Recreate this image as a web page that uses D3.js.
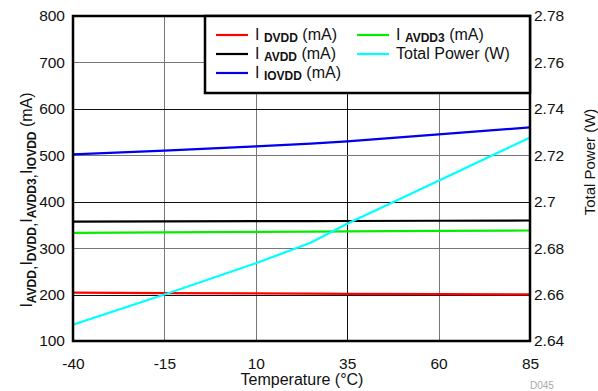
<!DOCTYPE html>
<html><head><meta charset="utf-8">
<script src="https://cdn.jsdelivr.net/npm/d3@7"></script>
<style>body{margin:0;background:#fff;} text{font-family:"Liberation Sans",Arial,sans-serif;}</style>
</head><body><svg id="c" width="598" height="391"></svg>
<script>
const temps = [-40, -15, 10, 25, 35, 60, 85];
const iDVDD  = [204, 203, 202.5, 202, 201.5, 201, 200.5];
const iAVDD  = [357, 357.5, 358, 358, 358.5, 359, 359.5];
const iAVDD3 = [333, 334, 335, 335.5, 336, 337, 338];
const iIOVDD = [502, 510, 519, 525, 530, 545, 560];
const totalPower = [2.647, 2.660, 2.6735, 2.6823, 2.6905, 2.709, 2.7277];
const xTicks = [-40, -15, 10, 35, 60, 85];
const yTicks = [100, 200, 300, 400, 500, 600, 700, 800];
const y2Ticks = [2.64, 2.66, 2.68, 2.7, 2.72, 2.74, 2.76, 2.78];

const svg = d3.select("#c");
const L = 73, R = 530, T = 16, B = 341;
const x = d3.scaleLinear().domain([-40, 85]).range([L, R]);
const y = d3.scaleLinear().domain([100, 800]).range([B, T]);
const y2 = d3.scaleLinear().domain([2.64, 2.78]).range([B, T]);

// grid
const g = svg.append("g");
g.selectAll(".vg").data(xTicks.slice(1, -1)).enter().append("line")
  .attr("x1", d => Math.round(x(d)) + 0.5).attr("x2", d => Math.round(x(d)) + 0.5)
  .attr("y1", T).attr("y2", B).attr("stroke", d => d === 35 ? "#111" : "#777").attr("stroke-width", 1);
g.selectAll(".hg").data(yTicks.slice(1, -1)).enter().append("line")
  .attr("y1", d => Math.round(y(d)) + 0.5).attr("y2", d => Math.round(y(d)) + 0.5)
  .attr("x1", L).attr("x2", R).attr("stroke", d => (d % 200 === 0) ? "#111" : "#777").attr("stroke-width", 1);

// axes labels via d3 axes
const axL = d3.axisLeft(y).tickValues(yTicks).tickSize(0).tickPadding(8).tickFormat(d => String(d));
const axR = d3.axisRight(y2).tickValues(y2Ticks).tickSize(0).tickPadding(4).tickFormat(d => String(+d.toFixed(2)));
const axB = d3.axisBottom(x).tickValues(xTicks).tickSize(0).tickPadding(17).tickFormat(d => String(d));
function style(sel){ sel.select(".domain").remove(); sel.selectAll("text").attr("font-size", 15.5).attr("fill", "#111"); }
svg.append("g").attr("transform", `translate(${L},0)`).call(axL).call(style);
svg.append("g").attr("transform", `translate(${R},0)`).call(axR).call(style);
svg.append("g").attr("transform", `translate(0,${B})`).call(axB).call(style);

// lines
const series = [
  {v: iDVDD, c: "#ff0000", s: y},
  {v: iAVDD3, c: "#00ee00", s: y},
  {v: iAVDD, c: "#000000", s: y},
  {v: iIOVDD, c: "#0000ee", s: y},
  {v: totalPower, c: "#00ffff", s: y2}
];
svg.append("clipPath").attr("id", "cp").append("rect").attr("x", L).attr("y", T).attr("width", R - L).attr("height", B - T);
series.forEach(se => {
  const line = d3.line().x((d, i) => x(temps[i])).y(d => se.s(d));
  svg.append("path").datum(se.v).attr("d", line).attr("fill", "none")
    .attr("stroke", se.c).attr("stroke-width", 2.2).attr("clip-path", "url(#cp)");
});

// border
svg.append("rect").attr("x", L).attr("y", T).attr("width", R - L).attr("height", B - T)
  .attr("fill", "none").attr("stroke", "#000").attr("stroke-width", 2.5);

// legend
const lg = svg.append("g");
lg.append("rect").attr("x", 205).attr("y", T).attr("width", R - 205).attr("height", 77)
  .attr("fill", "#fff").attr("stroke", "#000").attr("stroke-width", 2.5);
const legItems = [
  {c: "#ff0000", sub: "DVDD", unit: " (mA)", x: 216, y: 35},
  {c: "#000000", sub: "AVDD", unit: " (mA)", x: 216, y: 54},
  {c: "#0000ee", sub: "IOVDD", unit: " (mA)", x: 216, y: 73},
  {c: "#00ee00", sub: "AVDD3", unit: " (mA)", x: 357, y: 35},
  {c: "#00ffff", sub: null, unit: "Total Power (W)", x: 357, y: 54}
];
legItems.forEach(it => {
  lg.append("line").attr("x1", it.x).attr("x2", it.x + 32).attr("y1", it.y).attr("y2", it.y)
    .attr("stroke", it.c).attr("stroke-width", 2.2);
  const t = lg.append("text").attr("x", it.x + 39).attr("y", it.y + 5).attr("font-size", 16).attr("fill", "#111");
  if (it.sub) {
    t.append("tspan").text("I ");
    t.append("tspan").text(it.sub).attr("font-size", 12).attr("font-weight", "bold").attr("dy", 2);
    t.append("tspan").text(it.unit).attr("dy", -2);
  } else {
    t.text(it.unit);
  }
});

// axis titles
svg.append("text").attr("x", 302).attr("y", 385).attr("text-anchor", "middle")
  .attr("font-size", 16).attr("fill", "#111").text("Temperature (°C)");
svg.append("text").attr("transform", `translate(595,162) rotate(-90)`).attr("text-anchor", "middle")
  .attr("font-size", 15).attr("fill", "#111").text("Total Power (W)");
const yl = svg.append("text").attr("transform", `translate(32,200) rotate(-90)`).attr("text-anchor", "middle")
  .attr("font-size", 16).attr("fill", "#111");
const subs = ["AVDD", "DVDD", "AVDD3", "IOVDD"];
subs.forEach((s, i) => {
  yl.append("tspan").text("I").attr("dy", i === 0 ? 0 : -3.5);
  yl.append("tspan").text(s).attr("font-size", 12).attr("font-weight", "bold").attr("dy", 3.5);
  if (i < subs.length - 1) yl.append("tspan").text(",");
});
yl.append("tspan").text(" (mA)").attr("dy", -3.5);

svg.append("text").attr("x", 530).attr("y", 389).attr("font-size", 10).attr("fill", "#aaa").text("D045");
</script></body></html>
